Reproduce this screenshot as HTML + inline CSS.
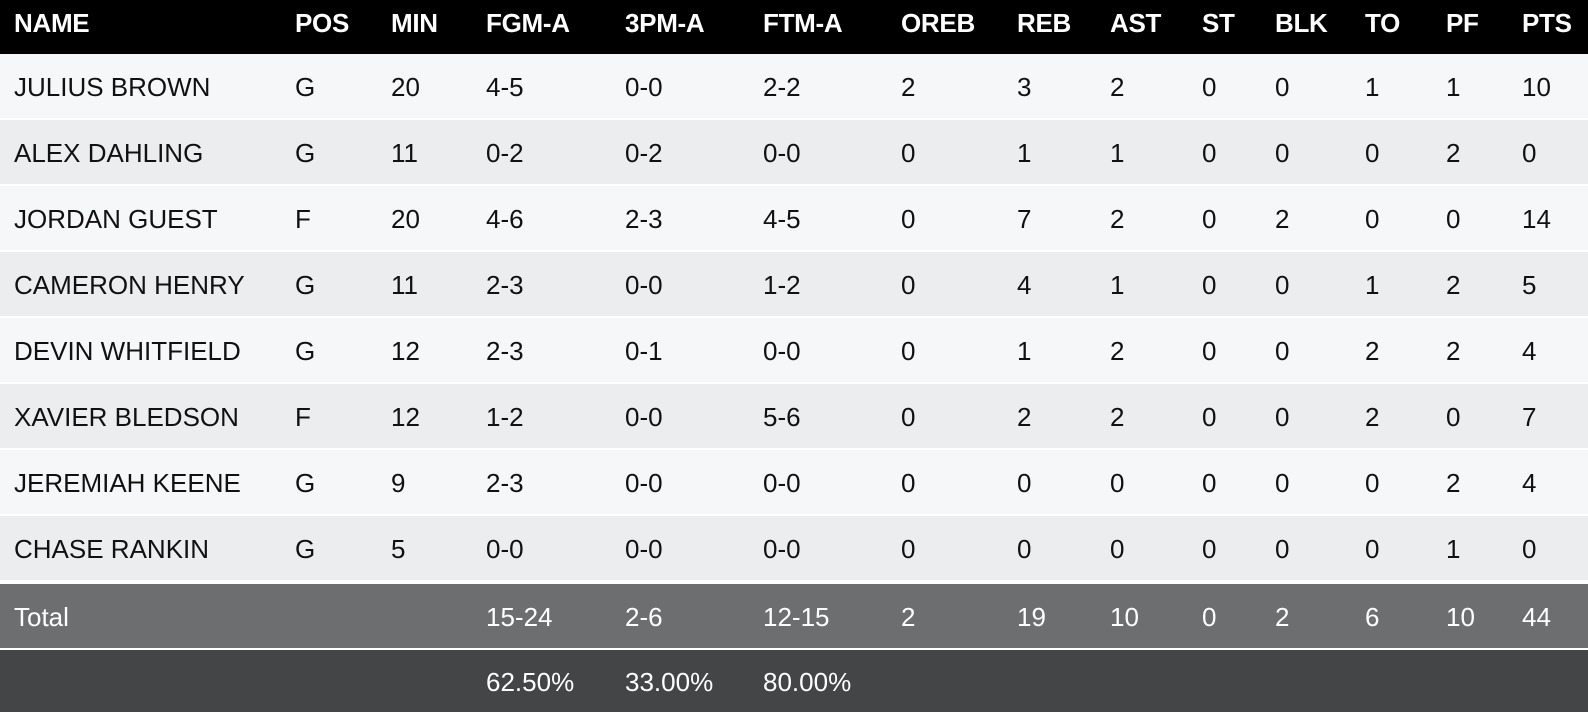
<!DOCTYPE html>
<html><head><meta charset="utf-8"><style>
body{margin:0;width:1588px;height:712px;background:#fff;font-family:"Liberation Sans",sans-serif;font-size:26px;overflow:hidden;position:relative}
.r{position:absolute;left:0;width:1588px;height:64px}
.r span{position:absolute;top:50%;transform:translateY(-45%);white-space:nowrap}
.h{top:0;height:54px;background:#000;color:#fff;font-weight:bold;letter-spacing:-0.3px}
.h span{transform:translateY(-62%)}
.a{background:#f6f7f9;color:#111}
.b{background:#ecedef;color:#111}
.t{background:#6d6e70;color:#fff}
.d{background:#444547;color:#fff;height:62px}
</style></head><body>
<div id="c"></div>
<script>
const xs=[14,295,391,486,625,763,901,1017,1110,1202,1275,1365,1446,1522];
const rows=[
["NAME","POS","MIN","FGM-A","3PM-A","FTM-A","OREB","REB","AST","ST","BLK","TO","PF","PTS"],
["JULIUS BROWN","G","20","4-5","0-0","2-2","2","3","2","0","0","1","1","10"],
["ALEX DAHLING","G","11","0-2","0-2","0-0","0","1","1","0","0","0","2","0"],
["JORDAN GUEST","F","20","4-6","2-3","4-5","0","7","2","0","2","0","0","14"],
["CAMERON HENRY","G","11","2-3","0-0","1-2","0","4","1","0","0","1","2","5"],
["DEVIN WHITFIELD","G","12","2-3","0-1","0-0","0","1","2","0","0","2","2","4"],
["XAVIER BLEDSON","F","12","1-2","0-0","5-6","0","2","2","0","0","2","0","7"],
["JEREMIAH KEENE","G","9","2-3","0-0","0-0","0","0","0","0","0","0","2","4"],
["CHASE RANKIN","G","5","0-0","0-0","0-0","0","0","0","0","0","0","1","0"],
["Total","","","15-24","2-6","12-15","2","19","10","0","2","6","10","44"],
["","","","62.50%","33.00%","80.00%","","","","","","","",""]];
let h="";
rows.forEach((r,i)=>{
 let cls,top;
 if(i==0){cls="h";top=0}
 else if(i<=8){cls=i%2?"a":"b";top=54+(i-1)*66}
 else if(i==9){cls="t";top=584}
 else {cls="d";top=650}
 h+=`<div class="r ${cls}" style="top:${top}px">`+r.map((t,j)=>t?`<span style="left:${xs[j]}px">${t}</span>`:"").join("")+"</div>";
});
document.getElementById("c").innerHTML=h;
</script>
</body></html>
